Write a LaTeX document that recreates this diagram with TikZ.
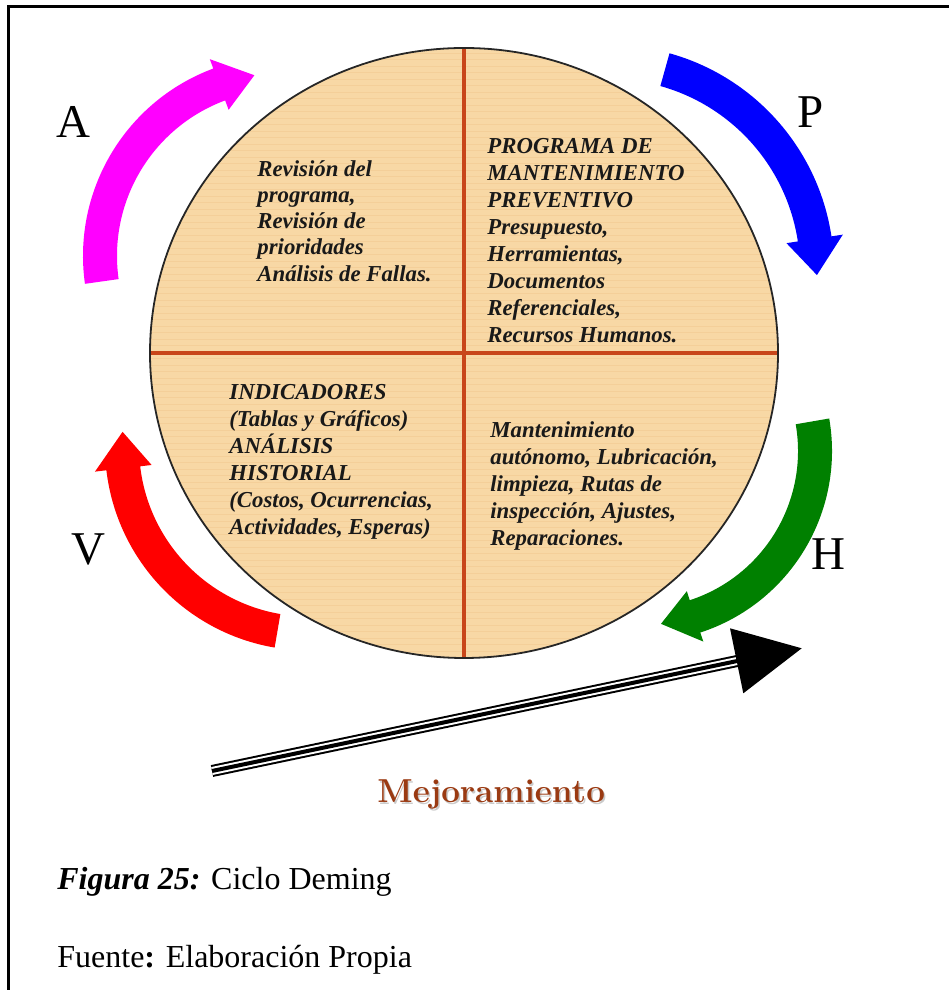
\documentclass[tikz,border=0pt]{standalone}
\usepackage{fontspec}
\newfontfamily\timesf{Liberation Serif}
\usetikzlibrary{shapes.geometric}
\definecolor{tanfill}{HTML}{F8D8A5}
\definecolor{tanline}{HTML}{EDC184}
\definecolor{divcol}{HTML}{C8461A}
\definecolor{mejcol}{HTML}{9A3A12}
\definecolor{arrA}{HTML}{FF00FF}
\definecolor{arrP}{HTML}{0000FF}
\definecolor{arrH}{HTML}{008000}
\definecolor{arrV}{HTML}{FF0000}
\tikzset{
  qtext/.style={anchor=north west, inner sep=0pt, align=left, text=black!90,
    font=\timesf\fontsize{11.4}{13.5}\selectfont\bfseries\itshape},
  letter/.style={inner sep=0pt, font=\timesf\fontsize{23.5}{28}\selectfont},
  divider/.style={draw=divcol, line width=1.75pt},
  captxt/.style={anchor=base west, inner sep=0pt, font=\timesf\fontsize{16}{19}\selectfont},
}
\begin{document}
\begin{tikzpicture}[x=0.5pt,y=0.5pt]
\useasboundingbox (0,0) rectangle (949,990);
% frame
\draw[line width=1.5pt] (8,0) -- (8,983) -- (949,983);

% circle
\node[ellipse, fill=tanfill, minimum width=314pt, minimum height=305pt, inner sep=0pt] (circ) at (464,637) {};
\begin{scope}
  \clip (circ.center) ellipse [x radius=314, y radius=305];
  \foreach \yy in {0,6.5,...,620} \draw[tanline, line width=0.5pt, opacity=0.35] (150,332+\yy) -- (778,332+\yy);
\end{scope}
\draw[divider] (circ.north) -- (circ.south);
\draw[divider] (circ.west) -- (circ.east);
\draw[line width=0.9pt, black!85] (circ.center) ellipse [x radius=314, y radius=305];

% quadrant texts
\node[qtext, font=\timesf\fontsize{11.4}{13.1}\selectfont\bfseries\itshape] (tl) at (257,830)
  {Revisión del\\ programa,\\ Revisión de\\ prioridades\\ Análisis de Fallas.};
\node[qtext] (tr) at (487,852)
  {PROGRAMA DE\\ MANTENIMIENTO\\ PREVENTIVO\\ Presupuesto,\\ Herramientas,\\ Documentos\\ Referenciales,\\ Recursos Humanos.};
\node[qtext] (bl) at (229,606)
  {INDICADORES\\ (Tablas y Gráficos)\\ ANÁLISIS\\ HISTORIAL\\ (Costos, Ocurrencias,\\ Actividades, Esperas)};
\node[qtext] (br) at (490,569)
  {Mantenimiento\\ autónomo, Lubricación,\\ limpieza, Rutas de\\ inspección, Ajustes,\\ Reparaciones.};

% cycle arrows
\fill[arrA, shift={(283,734)}] (188:200) arc[start angle=188, end angle=110.4, radius=200]
  -- (110.4:210) -- (99:183) -- (110.4:156) -- (110.4:166)
  arc[start angle=110.4, end angle=188, radius=166] -- cycle;
\fill[arrP, shift={(609,720)}] (74.4:225) arc[start angle=74.4, end angle=8.6, radius=225]
  -- (8.6:236.5) -- (-1.4:208) -- (8.6:179.5) -- (8.6:191)
  arc[start angle=8.6, end angle=74.4, radius=191] -- cycle;
\fill[arrH, shift={(641,539)}] (9.8:191) arc[start angle=9.8, end angle=-71.9, radius=191]
  -- (-71.9:200.5) -- (-83.4:174) -- (-71.9:147.5) -- (-71.9:157)
  arc[start angle=-71.9, end angle=9.8, radius=157] -- cycle;
\fill[arrV, shift={(309,543.5)}] (260.3:204) arc[start angle=260.3, end angle=186.7, radius=204]
  -- (186.7:215.5) -- (175.5:187) -- (186.7:158.5) -- (186.7:170)
  arc[start angle=186.7, end angle=260.3, radius=170] -- cycle;

% letters
\node[letter] (la) at (73,868) {A};
\node[letter] (lp) at (811,877.5) {P};
\node[letter] (lh) at (828,436) {H};
\node[letter] (lv) at (88,441) {V};

% improvement arrow
\coordinate (mt) at (212,219);
\coordinate (mb) at (742,330);
\coordinate (mh) at (801.7,341.7);
\draw[line width=6pt] (mt) -- (mb);
\draw[line width=4pt, white] (mt) -- (mb);
\draw[line width=2pt] (mt) -- (mb);
\fill (730,361.7) -- (mh) -- (743.3,296.7) -- cycle;

\node[anchor=base west, inner sep=0pt, font=\fontsize{16.6}{20}\selectfont\bfseries, text=black!35, opacity=0.6] (mejs) at (378.5,185.5) {Mejoramiento};
\node[anchor=base west, inner sep=0pt, font=\fontsize{16.6}{20}\selectfont\bfseries, text=mejcol] (mej) at (377,187) {Mejoramiento};

% caption
\node[captxt] (cap) at (57,100) {\textbf{\textit{Figura 25:}} Ciclo Deming};
\node[captxt] (src) at (57,22) {Fuente\textbf{:} Elaboración Propia};
\end{tikzpicture}
\end{document}
